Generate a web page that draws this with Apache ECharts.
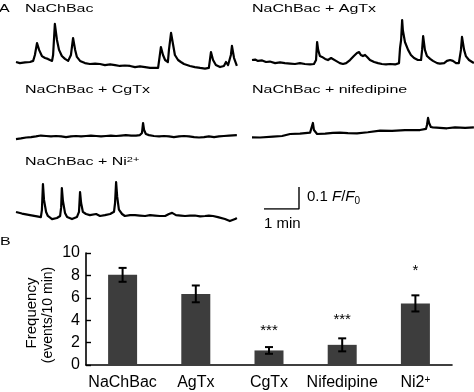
<!DOCTYPE html>
<html><head><meta charset="utf-8">
<script src="https://cdn.jsdelivr.net/npm/echarts@6/dist/echarts.min.js"></script>
<style>html,body{margin:0;padding:0;background:#fff}#c{width:474px;height:392px}</style>
</head><body><div id="c"></div>
<script>
// ---------- Panel A: calcium traces, [time (min), ΔF/F0] ----------
const traceNaChBac = [[0.00,0.050],[0.11,0.045],[0.26,0.048],[0.40,0.050],[0.49,0.055],[0.54,0.082],[0.60,0.136],[0.66,0.105],[0.74,0.077],[0.83,0.068],[0.91,0.064],[0.97,0.059],[1.03,0.055],[1.06,0.082],[1.11,0.223],[1.17,0.150],[1.23,0.105],[1.31,0.077],[1.40,0.064],[1.49,0.055],[1.54,0.050],[1.57,0.082],[1.63,0.159],[1.69,0.105],[1.74,0.073],[1.83,0.055],[1.97,0.045],[2.11,0.041],[2.26,0.043],[2.40,0.041],[2.54,0.036],[2.69,0.039],[2.83,0.036],[2.97,0.032],[3.11,0.034],[3.26,0.032],[3.40,0.027],[3.54,0.030],[3.69,0.027],[3.83,0.023],[3.97,0.023],[4.06,0.023],[4.09,0.059],[4.14,0.118],[4.20,0.082],[4.26,0.059],[4.34,0.050],[4.37,0.105],[4.43,0.182],[4.49,0.127],[4.54,0.082],[4.63,0.059],[4.71,0.050],[4.80,0.041],[4.97,0.032],[5.11,0.027],[5.26,0.023],[5.40,0.020],[5.51,0.023],[5.54,0.059],[5.57,0.095],[5.63,0.059],[5.71,0.036],[5.83,0.027],[5.94,0.032],[6.00,0.050],[6.03,0.055],[6.06,0.036],[6.11,0.032],[6.14,0.082],[6.17,0.123],[6.23,0.068],[6.29,0.041],[6.31,0.032]];
const traceAgTx = [[0.00,0.059],[0.09,0.061],[0.17,0.055],[0.29,0.057],[0.40,0.050],[0.51,0.052],[0.66,0.045],[0.80,0.048],[0.94,0.045],[1.09,0.043],[1.23,0.041],[1.37,0.045],[1.51,0.041],[1.66,0.039],[1.77,0.041],[1.83,0.059],[1.86,0.141],[1.89,0.105],[1.94,0.077],[2.00,0.073],[2.09,0.064],[2.17,0.059],[2.26,0.068],[2.31,0.068],[2.40,0.055],[2.51,0.045],[2.60,0.041],[2.69,0.045],[2.80,0.059],[2.91,0.077],[3.00,0.091],[3.06,0.095],[3.11,0.082],[3.17,0.077],[3.23,0.082],[3.29,0.073],[3.37,0.059],[3.49,0.050],[3.60,0.045],[3.71,0.041],[3.83,0.039],[3.94,0.041],[4.09,0.039],[4.20,0.045],[4.23,0.114],[4.26,0.150],[4.29,0.241],[4.31,0.195],[4.37,0.141],[4.46,0.105],[4.54,0.082],[4.63,0.068],[4.74,0.059],[4.83,0.059],[4.86,0.105],[4.89,0.168],[4.94,0.105],[5.00,0.077],[5.09,0.064],[5.17,0.055],[5.29,0.045],[5.37,0.043],[5.49,0.045],[5.57,0.055],[5.66,0.059],[5.74,0.055],[5.83,0.045],[5.91,0.045],[5.97,0.105],[6.00,0.164],[6.06,0.105],[6.11,0.077],[6.20,0.059],[6.29,0.050],[6.34,0.045]];
const traceCgTx = [[0.00,0.027],[0.14,0.030],[0.29,0.034],[0.43,0.036],[0.57,0.039],[0.71,0.043],[0.86,0.041],[1.00,0.039],[1.14,0.041],[1.29,0.039],[1.43,0.036],[1.57,0.039],[1.71,0.041],[1.86,0.039],[2.00,0.041],[2.14,0.043],[2.29,0.041],[2.43,0.039],[2.57,0.041],[2.71,0.043],[2.86,0.041],[3.00,0.043],[3.14,0.045],[3.29,0.043],[3.43,0.043],[3.54,0.045],[3.60,0.055],[3.63,0.100],[3.66,0.068],[3.71,0.050],[3.80,0.045],[3.94,0.041],[4.09,0.039],[4.23,0.041],[4.37,0.039],[4.51,0.036],[4.66,0.039],[4.80,0.041],[4.94,0.039],[5.09,0.036],[5.23,0.034],[5.37,0.036],[5.51,0.039],[5.66,0.036],[5.80,0.039],[5.94,0.041],[6.09,0.043],[6.31,0.045]];
const traceNifedipine = [[0.00,0.035],[0.23,0.034],[0.60,0.038],[0.86,0.041],[1.09,0.050],[1.37,0.052],[1.66,0.056],[1.71,0.060],[1.74,0.100],[1.77,0.068],[1.86,0.050],[2.09,0.052],[2.31,0.055],[2.51,0.056],[2.74,0.054],[3.00,0.053],[3.31,0.058],[3.66,0.065],[4.00,0.064],[4.37,0.068],[4.80,0.068],[4.97,0.073],[5.00,0.091],[5.03,0.123],[5.06,0.100],[5.11,0.082],[5.17,0.080],[5.37,0.078],[5.57,0.076],[5.80,0.080],[6.09,0.078],[6.34,0.080]];
const traceNi = [[0.00,0.059],[0.17,0.052],[0.40,0.045],[0.60,0.039],[0.71,0.036],[0.74,0.068],[0.77,0.186],[0.80,0.114],[0.86,0.059],[0.91,0.041],[1.03,0.027],[1.17,0.032],[1.26,0.041],[1.29,0.080],[1.31,0.168],[1.34,0.110],[1.40,0.055],[1.46,0.036],[1.60,0.027],[1.74,0.036],[1.80,0.060],[1.83,0.150],[1.86,0.100],[1.91,0.060],[2.00,0.050],[2.11,0.045],[2.29,0.050],[2.40,0.041],[2.54,0.045],[2.69,0.050],[2.80,0.060],[2.83,0.100],[2.86,0.195],[2.89,0.130],[2.94,0.070],[3.03,0.050],[3.11,0.041],[3.26,0.045],[3.40,0.045],[3.54,0.043],[3.69,0.041],[3.83,0.045],[3.97,0.043],[4.11,0.041],[4.26,0.041],[4.37,0.050],[4.46,0.055],[4.57,0.045],[4.71,0.043],[4.83,0.041],[4.97,0.043],[5.11,0.043],[5.26,0.039],[5.40,0.041],[5.51,0.043],[5.63,0.041],[5.77,0.036],[5.97,0.027],[6.11,0.018],[6.26,0.027],[6.31,0.032]];
const traceTitles = ['NaChBac', 'NaChBac + AgTx', 'NaChBac + CgTx', 'NaChBac + nifedipine', 'NaChBac + Ni{sup|2+}'];
const scaleBarTime = 1;    // min
const scaleBarAmp = 0.1;   // F/F0

// ---------- Panel B: event frequency ----------
const categories = ['NaChBac', 'AgTx', 'CgTx', 'Nifedipine', 'Ni2+'];
const freqMean = [8.05, 6.35, 1.3, 1.8, 5.5];
const freqErr = [0.62, 0.75, 0.3, 0.58, 0.72];
const sigMarks = ['', '', '***', '***', '*'];
const sigLevel = [null, null, 3.05, 4.0, 8.45];
const yTickStep = 2;
const yMax = 10;

// ---------- layout ----------
const FONT = 'Liberation Sans, Arial, sans-serif';
const PX_PER_MIN = 35, PX_PER_UNIT = 220;
const T_MAX = 6.32, A_MAX = 0.25;
const traceBoxes = [[16, 18], [252, 18], [16, 90], [252, 90], [16, 170]];
const traces = [traceNaChBac, traceAgTx, traceCgTx, traceNifedipine, traceNi];
const titlePos = [[25, 8.5], [252, 8.5], [25, 90], [252, 89.5], [25, 162]];

const grids = [], xAxes = [], yAxes = [], series = [];
traceBoxes.forEach((b, i) => {
  grids.push({left: b[0], top: b[1], width: T_MAX * PX_PER_MIN, height: A_MAX * PX_PER_UNIT});
  xAxes.push({type: 'value', gridIndex: i, min: 0, max: T_MAX, show: false});
  yAxes.push({type: 'value', gridIndex: i, min: 0, max: A_MAX, show: false});
  series.push({type: 'line', xAxisIndex: i, yAxisIndex: i, data: traces[i], showSymbol: false,
    lineStyle: {color: '#000', width: 2.2, join: 'round'}, silent: true});
});
// scale bar grid (index 5)
grids.push({left: 264, top: 187, width: scaleBarTime * PX_PER_MIN, height: scaleBarAmp * PX_PER_UNIT});
xAxes.push({type: 'value', gridIndex: 5, min: 0, max: scaleBarTime, show: false});
yAxes.push({type: 'value', gridIndex: 5, min: 0, max: scaleBarAmp, show: false});
series.push({type: 'line', xAxisIndex: 5, yAxisIndex: 5, showSymbol: false,
  data: [[0, 0], [scaleBarTime, 0], [scaleBarTime, scaleBarAmp]],
  lineStyle: {color: '#000', width: 1.4}});

// bar grid (index 6)
grids.push({left: 86, top: 253, width: 366, height: 112});
xAxes.push({type: 'category', gridIndex: 6, data: categories,
  axisLine: {lineStyle: {color: '#000', width: 1.6}},
  axisTick: {inside: true, length: 5, lineStyle: {color: '#000', width: 1.4}},
  axisLabel: {color: '#000', fontSize: 16, fontFamily: FONT, margin: 10, interval: 0,
    formatter: v => v === 'Ni2+' ? 'Ni2{sup|+}' : v,
    rich: {sup: {fontSize: 10, verticalAlign: 'top', color: '#000', fontFamily: FONT}}}});
yAxes.push({type: 'value', gridIndex: 6, min: 0, max: yMax, interval: yTickStep,
  axisLine: {show: true, lineStyle: {color: '#000', width: 1.6}},
  axisTick: {show: true, inside: true, length: 5, lineStyle: {color: '#000', width: 1.4}},
  splitLine: {show: false},
  axisLabel: {color: '#000', fontSize: 16, fontFamily: FONT, margin: 6}});
series.push({type: 'bar', xAxisIndex: 6, yAxisIndex: 6, data: freqMean, barWidth: 29,
  itemStyle: {color: '#3d3d3d'}});
series.push({type: 'custom', xAxisIndex: 6, yAxisIndex: 6,
  data: freqMean.map((m, i) => [i, m - freqErr[i], m + freqErr[i]]),
  renderItem: (params, api) => {
    const lo = api.coord([api.value(0), api.value(1)]);
    const hi = api.coord([api.value(0), api.value(2)]);
    const w = 4;
    const st = {stroke: '#000', lineWidth: 2};
    return {type: 'group', children: [
      {type: 'line', shape: {x1: lo[0], y1: lo[1], x2: hi[0], y2: hi[1]}, style: st},
      {type: 'line', shape: {x1: lo[0] - w, y1: lo[1], x2: lo[0] + w, y2: lo[1]}, style: st},
      {type: 'line', shape: {x1: hi[0] - w, y1: hi[1], x2: hi[0] + w, y2: hi[1]}, style: st}
    ]};
  }, z: 5});
series.push({type: 'custom', xAxisIndex: 6, yAxisIndex: 6,
  data: sigLevel.map((v, i) => [i, v == null ? 0 : v, sigMarks[i]]),
  renderItem: (params, api) => {
    const i = params.dataIndex;
    if (!sigMarks[i]) return null;
    const p = api.coord([i, sigLevel[i]]);
    return {type: 'text', style: {text: sigMarks[i], x: p[0], y: p[1], align: 'center',
      verticalAlign: 'middle', fontSize: 15, fontFamily: FONT, fill: '#000'}};
  }, z: 6});

const graphics = [];
const txt = (t, x, y, o) => Object.assign({type: 'text', x: x, y: y,
  style: Object.assign({text: t, x: 0, y: 0, fontSize: 16, fontFamily: FONT, fill: '#000',
    verticalAlign: 'middle', align: 'left'}, o && o.style || {})}, o && o.el || {});
graphics.push(txt('A', -1, 8.5, {el: {scaleY: 0.72}}));
traceTitles.forEach((t, i) => graphics.push(txt(t, titlePos[i][0], titlePos[i][1], {el: {scaleY: 0.72},
  style: {rich: {sup: {fontSize: 11, verticalAlign: 'top', fontFamily: FONT, fill: '#000'}}}})));
graphics.push(txt('0.1 {i|F}/{i|F}{sub|0}', 307, 197, {style: {fontSize: 15, rich: {
  i: {fontStyle: 'italic', fontSize: 15, fontFamily: FONT},
  sub: {fontSize: 10, verticalAlign: 'bottom', fontFamily: FONT, padding: [8, 0, 0, 0]}}}}));
graphics.push(txt('1 min', 264, 223.5, {style: {fontSize: 15}}));
graphics.push(txt('B', 0, 242, {el: {scaleY: 0.72}}));
graphics.push(txt('Frequency', 31.5, 313, {el: {rotation: Math.PI / 2},
  style: {fontSize: 15, align: 'center'}}));
graphics.push(txt('(events/10 min)', 48, 315, {el: {rotation: Math.PI / 2},
  style: {fontSize: 14, align: 'center'}}));

const chart = echarts.init(document.getElementById('c'), null, {renderer: 'canvas'});
chart.setOption({animation: false, backgroundColor: '#fff', grid: grids, xAxis: xAxes, yAxis: yAxes,
  series: series, graphic: graphics});
</script></body></html>
